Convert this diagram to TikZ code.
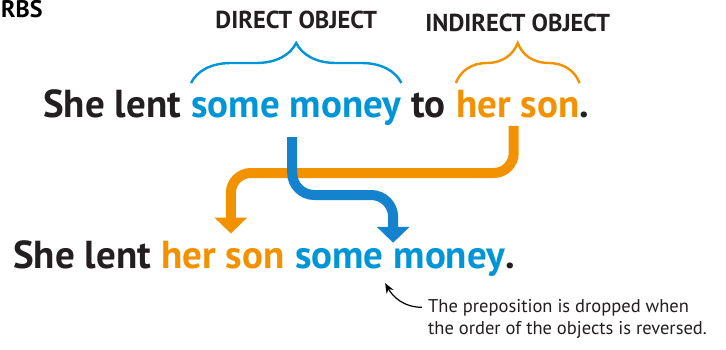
\documentclass[tikz,border=0pt]{standalone}
\usepackage{fontspec}
\setmainfont{PT Sans}
\usetikzlibrary{positioning,calc,arrows.meta,decorations.pathreplacing}

\definecolor{dblue}{RGB}{0,149,214}
\definecolor{dbluearrow}{RGB}{20,130,205}
\definecolor{iorange}{RGB}{243,146,0}
\definecolor{inkgray}{RGB}{35,31,32}

\tikzset{
  sentence/.style={inner sep=0pt, anchor=base west, text=inkgray, font=\fontsize{39}{43}\selectfont\bfseries},
  objlabel/.style={inner sep=0pt, text=inkgray, font=\fontsize{24.5}{27}\selectfont\bfseries},
  notetext/.style={inner sep=0pt, anchor=base west, text=inkgray, font=\fontsize{18.5}{22}\selectfont},
  objbrace/.style={decorate, decoration={brace, amplitude=40pt}, line width=2.4pt},
  movearrow/.style={line width=10pt, -{Triangle[width=32pt,length=16pt]}},
  notearrow/.style={line width=1.2pt, -{Stealth[length=10pt,width=8pt]}}
}

\begin{document}
\begin{tikzpicture}[x=1pt, y=-1pt]
\clip (0,0) rectangle (726,349);
\fill[white] (0,0) rectangle (726,349);

% heading
\node[inner sep=0pt, anchor=base west, font=\fontsize{24}{24}\selectfont\bfseries] (heading) at (1,17) {RBS};

% first sentence
\node[sentence] (top1) at (43,117) {She lent\ \null};
\node[sentence, text=dblue] (topdo) at (top1.base east) {some money};
\node[sentence] (topto) at (topdo.base east) {\ to\ \null};
\node[sentence, text=iorange] (topio) at (topto.base east) {her son};
\node[sentence] (topdot) at (topio.base east) {.};

% braces and labels
\coordinate (braceline) at (0,83);
\draw[objbrace, dblue] (topdo.west |- braceline) -- (topdo.east |- braceline);
\draw[objbrace, iorange] (topio.west |- braceline) -- (topio.east |- braceline);
\coordinate (dotip) at ($(topdo.west |- braceline)!0.5!(topdo.east |- braceline) + (0,-41)$);
\coordinate (iotip) at ($(topio.west |- braceline)!0.5!(topio.east |- braceline) + (0,-41)$);
\node[objlabel, above=13pt of dotip] (dolabel) {DIRECT OBJECT};
\node[objlabel, above=10pt of iotip] (iolabel) {INDIRECT OBJECT};

% second sentence
\node[sentence] (bot1) at (13,268) {She lent\ \null};
\node[sentence, text=iorange] (botio) at (bot1.base east) {her son};
\node[sentence] (botsp) at (botio.base east) {\ \null};
\node[sentence, text=dblue] (botdo) at (botsp.base east) {some money};
\node[sentence] (botdot) at (botdo.base east) {.};

% moving arrows
\coordinate (orow) at (0,173);
\coordinate (brow) at (0,195);
\coordinate (ostart) at ([xshift=-4pt, yshift=-8pt]topio.south);
\coordinate (oend) at ([xshift=8pt, yshift=7pt]botio.north);
\coordinate (bstart) at ([xshift=-4pt, yshift=-12pt]topdo.south);
\coordinate (bend) at ([xshift=-7pt, yshift=5pt]botdo.north);
\draw[movearrow, iorange, rounded corners=20pt] (ostart) -- (ostart |- orow) -- (oend |- orow) -- (oend);
\draw[movearrow, dbluearrow, rounded corners=22pt] (bstart) -- (bstart |- brow) -- (bend |- brow) -- (bend);

% note
\node[notetext] (note1) at (428,312) {The preposition is dropped when};
\node[notetext] (note2) at ([yshift=-22pt]note1.base west) {the order of the objects is reversed.};
\coordinate (gap) at ([xshift=-15pt, yshift=-7pt]botdo.south);
\draw[notearrow] ([xshift=-6pt]note1.west) .. controls +(-18,0) and +(8,14) .. (gap);
\end{tikzpicture}
\end{document}
